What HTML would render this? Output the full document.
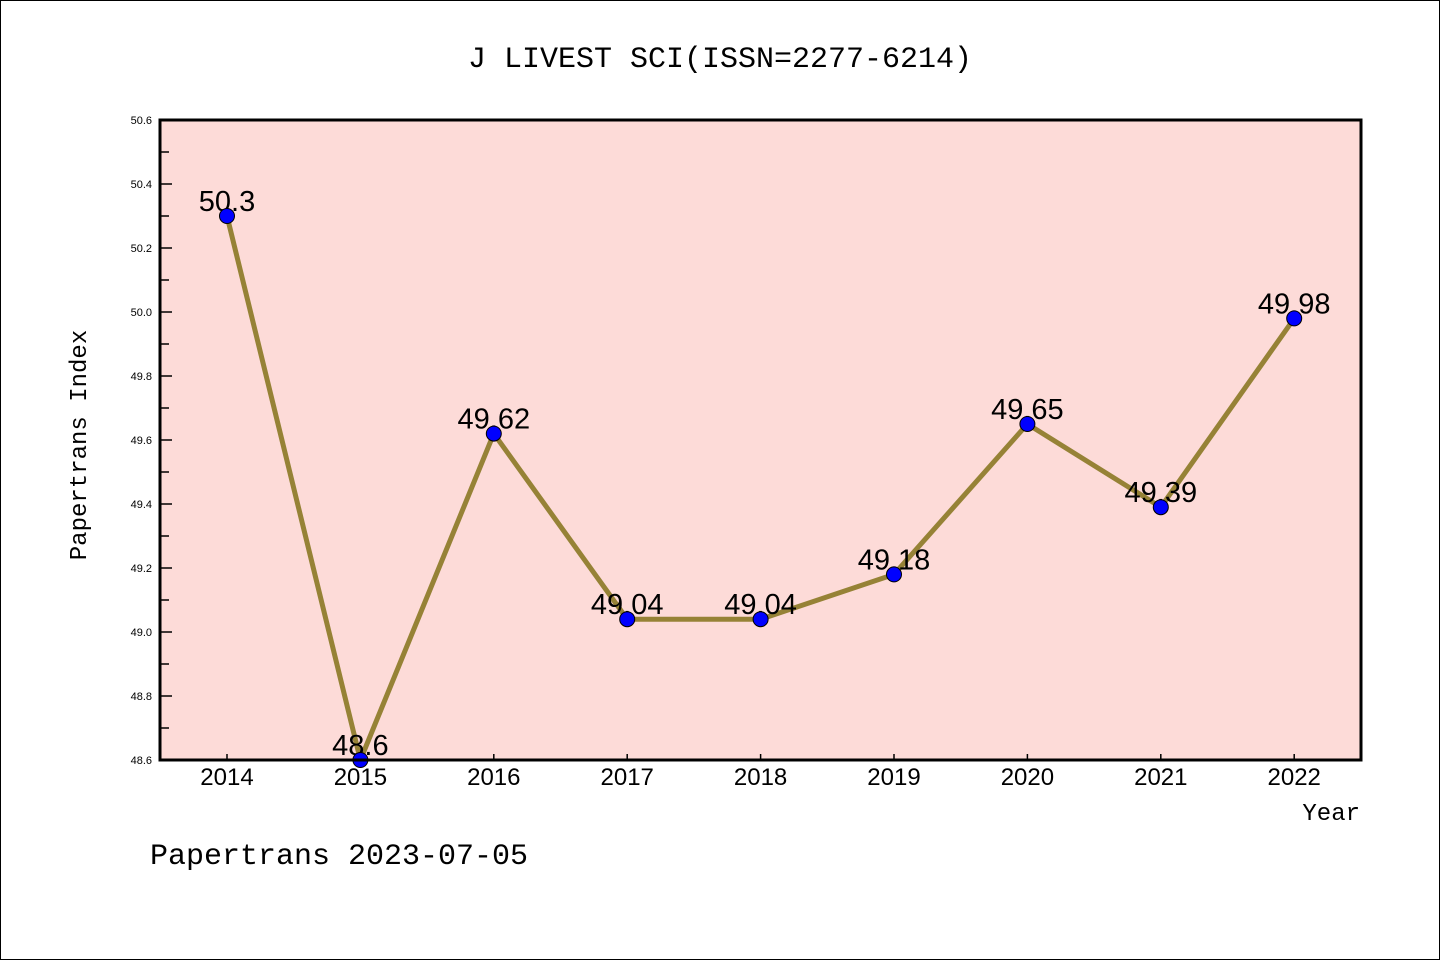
<!DOCTYPE html>
<html><head><meta charset="utf-8"><style>
body{margin:0;background:#fff}
svg{display:block;font-family:"Liberation Sans","DejaVu Sans",sans-serif}
</style></head><body>
<svg id="c" width="1440" height="960" xmlns="http://www.w3.org/2000/svg">
<rect x="0.5" y="0.5" width="1439" height="959" fill="#fff" stroke="#000"/>
<text x="720" y="67" font-size="30" text-anchor="middle" font-family="'Liberation Mono',monospace">J LIVEST SCI(ISSN=2277-6214)</text>
<rect x="160" y="120" width="1201" height="640" fill="#fddbd8"/>
<g id="ticks"></g>
<g id="series"></g>
<rect x="160" y="120" width="1201" height="640" fill="none" stroke="#000" stroke-width="3"/>
<text x="86" y="445" font-size="24" text-anchor="middle" transform="rotate(-90 86 445)" font-family="'Liberation Mono',monospace">Papertrans Index</text>
<text x="1360" y="820" font-size="24" text-anchor="end" font-family="'Liberation Mono',monospace">Year</text>
<text x="150" y="864" font-size="30" font-family="'Liberation Mono',monospace">Papertrans 2023-07-05</text>
</svg>
<script>
const years=["2014","2015","2016","2017","2018","2019","2020","2021","2022"];
const values=[50.3,48.6,49.62,49.04,49.04,49.18,49.65,49.39,49.98];
const labels=["50.3","48.6","49.62","49.04","49.04","49.18","49.65","49.39","49.98"];
const yTicks=["48.6","48.8","49.0","49.2","49.4","49.6","49.8","50.0","50.2","50.4","50.6"];
const NS="http://www.w3.org/2000/svg";
const xs=i=>227+i*133.4;
const ys=v=>760-(v-48.6)*320;
function mk(t,a,p){const e=document.createElementNS(NS,t);for(const k in a)e.setAttribute(k,a[k]);p.appendChild(e);return e;}
const tg=document.getElementById('ticks'),sg=document.getElementById('series');
yTicks.forEach((t,i)=>{const v=parseFloat(t),y=ys(v);
 const l=mk('line',{x1:160,x2:172,y1:y,y2:y,stroke:'#000','stroke-width':1.5},tg);
 
 
 const tx=mk('text',{x:152,y:y+4,'font-size':11,'text-anchor':'end'},tg);tx.textContent=t;
 
 
 if(i<yTicks.length-1){const ym=ys(v+0.1);
  const m=mk('line',{x1:160,x2:169,y1:ym,y2:ym,stroke:'#000','stroke-width':1.5},tg);
  
  }
});
years.forEach((yr,i)=>{const x=xs(i);
 const l=mk('line',{x1:x,x2:x,y1:760,y2:754,stroke:'#000','stroke-width':1.5},tg);
 
 
 const t=mk('text',{x:x,y:785,'font-size':24,'text-anchor':'middle'},tg);t.textContent=yr;
 
 
});
const pl=mk('polyline',{points:values.map((v,i)=>xs(i)+','+ys(v)).join(' '),fill:'none',stroke:'#968236','stroke-width':5,'stroke-linejoin':'round'},sg);


values.forEach((v,i)=>{
 const t=mk('text',{x:xs(i),y:ys(v)-5,'font-size':29,'text-anchor':'middle'},sg);t.textContent=labels[i];
 
 
});
values.forEach((v,i)=>{
 const c=mk('circle',{cx:xs(i),cy:ys(v),r:7.5,fill:'#0000ff',stroke:'#000','stroke-width':1},sg);
 
 
});
</script>
</body></html>
